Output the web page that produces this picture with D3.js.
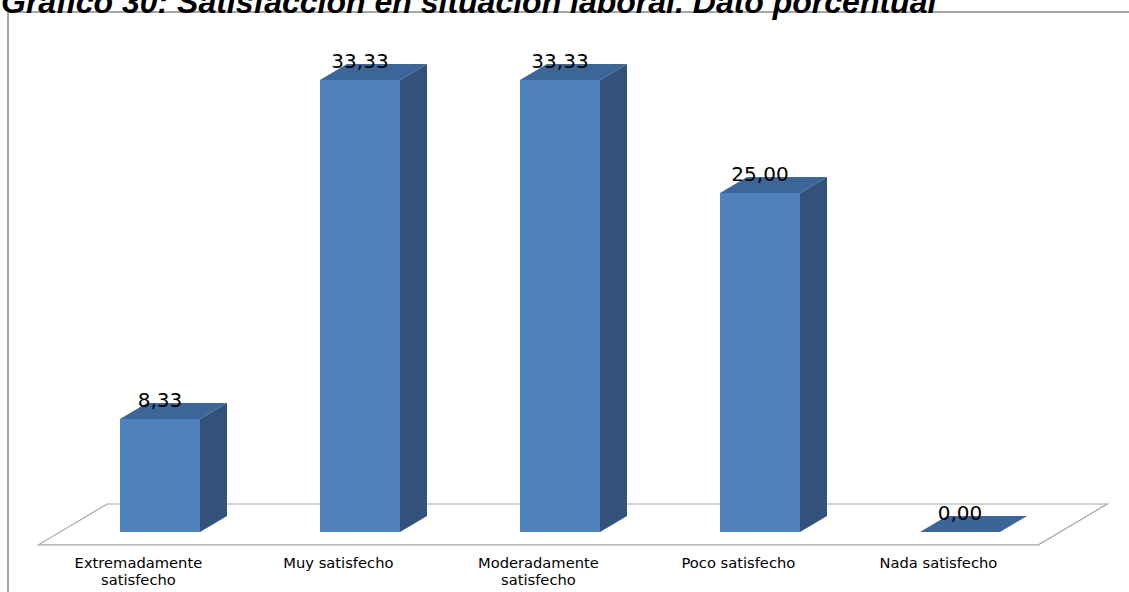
<!DOCTYPE html>
<html>
<head>
<meta charset="utf-8">
<script src="https://cdn.jsdelivr.net/npm/d3@7/dist/d3.min.js"></script>
<style>
  html, body { margin: 0; padding: 0; background: #fff; }
  svg { display: block; }
</style>
</head>
<body>
<svg id="chart" width="1129" height="592"></svg>
<script>
// Category labels (each entry is one line of the axis label)
const categories = [
  ["Extremadamente", "satisfecho"],
  ["Muy satisfecho"],
  ["Moderadamente", "satisfecho"],
  ["Poco satisfecho"],
  ["Nada satisfecho"]
];
const values = [8.33, 33.33, 33.33, 25.00, 0.00];
const valueLabels = ["8,33", "33,33", "33,33", "25,00", "0,00"];
const titleText = "Gráfico 30: Satisfacción en situación laboral. Dato porcentual";

const svg = d3.select("#chart");
const W = 1129, H = 592;

// Colours of the 3D bar faces
const frontColor = "#4f81bd";
const topColor = "#3c6598";
const sideColor = "#32527b";

// Oblique depth of a bar
const depthX = 27, depthY = 16;

const keys = categories.map((c, i) => i);
const x = d3.scaleBand().domain(keys).range([60, 1060]).paddingInner(0.6).paddingOuter(0.3);
const y = d3.scaleLinear().domain([0, 33.33]).range([532, 80]);

// Frame around the chart
svg.append("rect")
  .attr("x", 8).attr("y", 12).attr("width", W + 20).attr("height", H + 20)
  .attr("fill", "#fff").attr("stroke", "#8a8a8a").attr("stroke-width", 1.5);

// Title (partly above the visible area)
svg.append("text")
  .attr("x", 1).attr("y", 13)
  .attr("font-family", "Liberation Sans, Arial, sans-serif")
  .attr("font-weight", "bold").attr("font-style", "italic")
  .attr("font-size", 32)
  .attr("fill", "#000")
  .text(titleText);

// Floor plane
const y0 = y(0);
const fFront = -0.8, fBack = 1.75;
const [r0, r1] = x.range();
const floorPts = [
  [r0 + fFront * depthX, y0 - fFront * depthY],
  [r1 + fFront * depthX, y0 - fFront * depthY],
  [r1 + fBack * depthX, y0 - fBack * depthY],
  [r0 + fBack * depthX, y0 - fBack * depthY]
];
svg.append("polygon")
  .attr("points", floorPts.map(p => p.join(",")).join(" "))
  .attr("fill", "none").attr("stroke", "#a6a6a6").attr("stroke-width", 1.2);

// Bars
const bars = svg.append("g").selectAll("g").data(values).join("g");
bars.each(function(v, i) {
  const g = d3.select(this);
  const x0 = x(i), x1 = x(i) + x.bandwidth();
  const yt = y(v), yb = y(0);
  if (v > 0) {
    g.append("polygon")
      .attr("points", [[x1, yb], [x1 + depthX, yb - depthY], [x1 + depthX, yt - depthY], [x1, yt]].map(p => p.join(",")).join(" "))
      .attr("fill", sideColor);
    g.append("rect")
      .attr("x", x0).attr("y", yt).attr("width", x1 - x0).attr("height", yb - yt)
      .attr("fill", frontColor);
  }
  g.append("polygon")
    .attr("points", [[x0, yt], [x1, yt], [x1 + depthX, yt - depthY], [x0 + depthX, yt - depthY]].map(p => p.join(",")).join(" "))
    .attr("fill", v > 0 ? topColor : "#3b6497");
});

// Value labels
svg.append("g").selectAll("text").data(values).join("text")
  .attr("x", (d, i) => x(i) + x.bandwidth() / 2)
  .attr("y", d => y(d) - 12)
  .attr("text-anchor", "middle")
  .attr("font-family", "DejaVu Sans, Verdana, sans-serif")
  .attr("font-size", 20)
  .attr("fill", "#000")
  .text((d, i) => valueLabels[i]);

// Category labels, centred under the front edge of the floor
const labelShift = fFront * depthX;
const catG = svg.append("g").selectAll("text").data(categories).join("text")
  .attr("x", (d, i) => x(i) + x.bandwidth() / 2 + labelShift)
  .attr("y", 568)
  .attr("text-anchor", "middle")
  .attr("font-family", "DejaVu Sans, Verdana, sans-serif")
  .attr("font-size", 14.7)
  .attr("fill", "#000");
catG.selectAll("tspan").data(d => d).join("tspan")
  .attr("x", function() { return d3.select(this.parentNode).attr("x"); })
  .attr("dy", (d, j) => j === 0 ? 0 : 17)
  .text(d => d);
</script>
</body>
</html>
